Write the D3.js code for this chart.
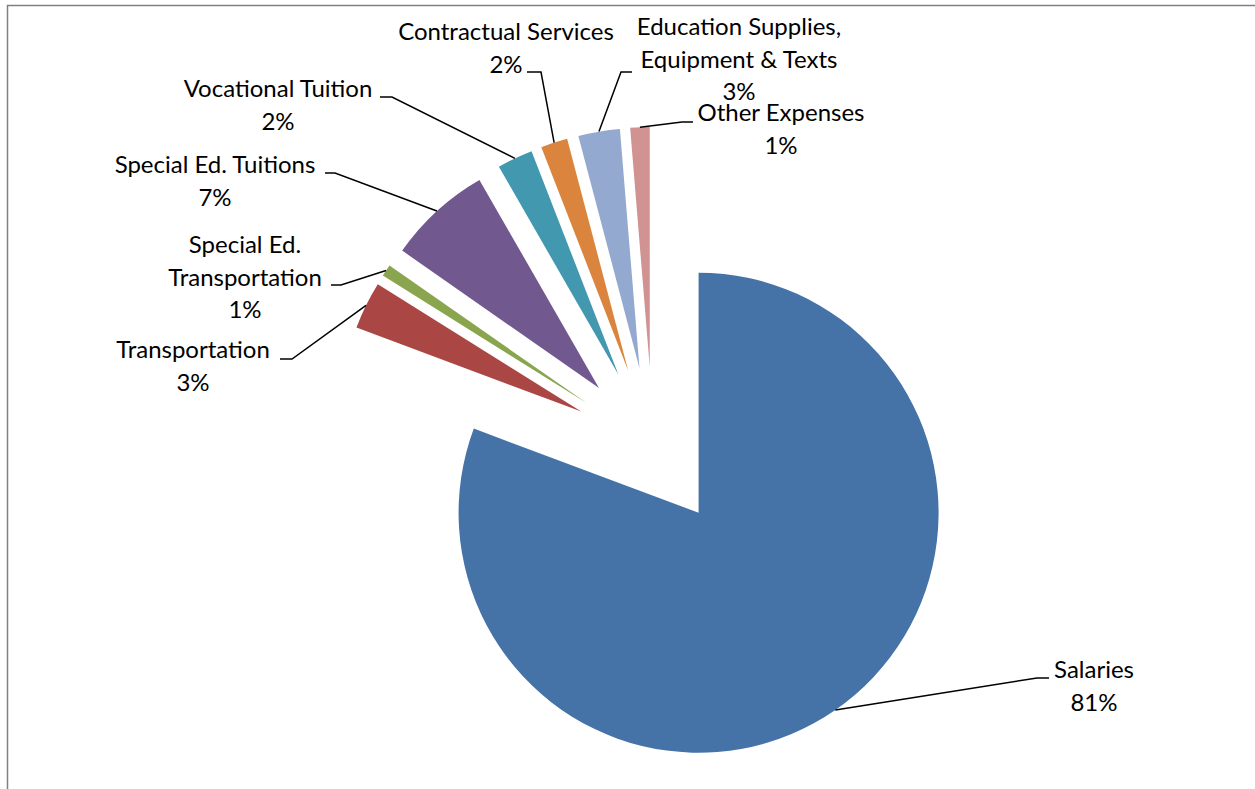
<!DOCTYPE html>
<html>
<head>
<meta charset="utf-8">
<script src="https://cdn.jsdelivr.net/npm/d3@7/dist/d3.min.js"></script>
<style>
  html, body { margin: 0; padding: 0; background: #fff; }
  svg { display: block; }
  text { font-family: Lato, "Open Sans", sans-serif; fill: #000; }
</style>
</head>
<body>
<svg id="chart" width="1255" height="789"></svg>
<script>
// Expense categories and their share of the budget (percent)
const categories = [
  "Salaries",
  "Transportation",
  "Special Ed. Transportation",
  "Special Ed. Tuitions",
  "Vocational Tuition",
  "Contractual Services",
  "Education Supplies, Equipment & Texts",
  "Other Expenses"
];
const shares = [80.7, 3.2, 0.8, 7.0, 2.4, 1.8, 2.8, 1.3];
const percentLabels = ["81%", "3%", "1%", "7%", "2%", "2%", "3%", "1%"];
// How each category name wraps inside its data label
const labelLines = [
  ["Salaries"],
  ["Transportation"],
  ["Special Ed.", "Transportation"],
  ["Special Ed. Tuitions"],
  ["Vocational Tuition"],
  ["Contractual Services"],
  ["Education Supplies,", "Equipment & Texts"],
  ["Other Expenses"]
];
const colors = ["#4572A7", "#AA4643", "#89A54E", "#71588F", "#4198AF", "#DB843D", "#93A9CF", "#D19392"];

// Label placement: text centre x, first baseline y, leader attach x, kink x, leader y
const labelLayout = [
  { cx: 1094, y: 678, ax: 1049, kx: 1037, ly: 678 },
  { cx: 193,  y: 358, ax: 280,  kx: 292,  ly: 359 },
  { cx: 245,  y: 253, ax: 331,  kx: 341,  ly: 285 },
  { cx: 215,  y: 173, ax: 325,  kx: 335,  ly: 173 },
  { cx: 278,  y: 97,  ax: 380,  kx: 392,  ly: 97  },
  { cx: 506,  y: 40,  ax: 527,  kx: 541,  ly: 72  },
  { cx: 739,  y: 35,  ax: 632,  kx: 621,  ly: 72  },
  { cx: 781,  y: 121, ax: 693,  kx: 682,  ly: 122 }
];

const W = 1255, H = 789;
const cx = 653, cy = 447;      // pie centre
const radius = 240;
const explode = 80;            // every slice pulled out along its bisector
const lineGap = 32.5;

const svg = d3.select("#chart");

// chart frame (top and left edges visible)
svg.append("path")
  .attr("d", `M7.5,${H} L7.5,5.5 L${W},5.5`)
  .attr("fill", "none")
  .attr("stroke", "#808080")
  .attr("stroke-width", 1.5);

const data = categories.map((c, i) => ({ name: c, value: shares[i], i }));

const pie = d3.pie()
  .value(d => d.value)
  .sort(null)
  .startAngle(0)
  .endAngle(2 * Math.PI);

const arcs = pie(data);
const arcGen = d3.arc().innerRadius(0).outerRadius(radius);

const dir = a => [Math.sin(a), -Math.cos(a)];

const g = svg.append("g").attr("transform", `translate(${cx},${cy})`);

g.selectAll("path.slice")
  .data(arcs)
  .join("path")
  .attr("class", "slice")
  .attr("d", arcGen)
  .attr("fill", (d, i) => colors[i])
  .attr("transform", d => {
    const m = (d.startAngle + d.endAngle) / 2;
    const [dx, dy] = dir(m);
    return `translate(${dx * explode},${dy * explode})`;
  });

// leader lines from each label to the middle of its slice's outer arc
arcs.forEach((d, i) => {
  const m = (d.startAngle + d.endAngle) / 2;
  const [dx, dy] = dir(m);
  const px = cx + dx * (explode + radius);
  const py = cy + dy * (explode + radius);
  const L = labelLayout[i];
  svg.append("polyline")
    .attr("points", `${L.ax},${L.ly} ${L.kx},${L.ly} ${px},${py}`)
    .attr("fill", "none")
    .attr("stroke", "#000")
    .attr("stroke-width", 1.5);
});

// data labels: category name lines followed by the percentage
categories.forEach((c, i) => {
  const L = labelLayout[i];
  const lines = labelLines[i].concat([percentLabels[i]]);
  const t = svg.append("text")
    .attr("text-anchor", "middle")
    .attr("font-size", 24);
  lines.forEach((s, k) => {
    t.append("tspan")
      .attr("x", L.cx)
      .attr("y", L.y + k * lineGap)
      .text(s);
  });
});
</script>
</body>
</html>
